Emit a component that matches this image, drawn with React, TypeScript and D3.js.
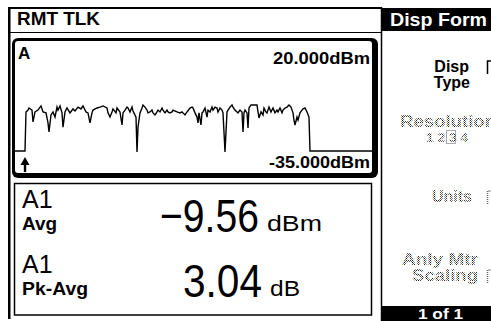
import React from 'react';
import * as d3 from 'd3';

const W = 491;
const H = 321;

// Sweep trace: bin index across the display and measured level (dBm)
const sweepBins = [
  0, 11, 12, 14, 15, 18, 19, 21, 24, 27, 29, 32, 34, 35, 37, 39, 41, 43, 44, 46,
  48, 49, 51, 53, 56, 59, 61, 64, 67, 69, 72, 74, 76, 78, 79, 83, 86, 89, 93, 94,
  96, 98, 99, 102, 103, 106, 108, 109, 111, 113, 114, 116, 118, 119, 122, 123, 124, 126, 128, 129,
  131, 133, 134, 136, 138, 139, 141, 143, 144, 146, 148, 149, 151, 153, 154, 156, 158, 159, 163, 166,
  168, 169, 171, 173, 176, 178, 179, 181, 183, 184, 185, 187, 188, 189, 191, 193, 194, 196, 198, 199,
  201, 203, 204, 206, 208, 209, 211, 213, 214, 216, 218, 219, 221, 223, 224, 226, 228, 229, 230, 231,
  233, 234, 235, 237, 243, 244, 245, 247, 249, 250, 252, 253, 255, 257, 259, 261, 263, 264, 266, 268,
  269, 271, 273, 275, 277, 279, 280, 281, 283, 284, 286, 288, 289, 291, 293, 295, 296, 358,
];
const traceDbm = [
  -26.0, -26.0, -9.2, -8.4, -7.5, -8.4, -13.5, -9.2, -8.4, -6.6, -9.2, -9.6, -13.9, -17.8, -10.5, -9.2, -11.4, -7.1, -8.4, -6.6,
  -9.6, -15.7, -9.2, -7.5, -9.6, -7.9, -8.8, -7.1, -7.9, -6.6, -9.2, -9.6, -13.9, -9.6, -8.4, -7.5, -7.1, -6.6, -7.5, -9.6,
  -11.4, -9.2, -7.9, -9.6, -7.5, -9.2, -14.8, -9.6, -8.4, -7.1, -7.5, -9.2, -7.1, -8.8, -11.4, -26.4, -15.7, -9.6, -7.5, -6.2,
  -7.1, -8.4, -9.6, -9.2, -8.4, -9.6, -10.5, -9.2, -8.4, -9.2, -7.5, -8.4, -9.6, -8.4, -9.2, -9.6, -9.2, -8.4, -9.2, -9.6,
  -9.2, -9.6, -10.5, -9.2, -7.5, -7.1, -7.5, -9.6, -11.4, -13.9, -9.6, -14.8, -9.6, -9.2, -7.5, -11.4, -8.4, -9.2, -7.1, -8.4,
  -7.1, -7.5, -9.2, -7.5, -8.4, -9.6, -26.4, -9.2, -8.4, -7.1, -6.2, -7.1, -8.4, -9.2, -9.6, -8.4, -9.2, -17.8, -9.6, -8.4,
  -9.6, -16.1, -7.5, -6.2, -6.2, -9.2, -11.8, -9.2, -10.5, -7.5, -9.2, -9.6, -7.1, -9.2, -7.5, -9.6, -8.4, -9.2, -7.5, -9.6,
  -8.4, -7.5, -7.1, -6.2, -7.1, -9.6, -12.7, -14.8, -11.4, -12.7, -9.6, -8.4, -7.9, -7.5, -9.2, -11.4, -26.0, -26.0,
];

const refLevelTop = 20;
const refLevelBottom = -35;
const sweepSpan = [0, 358];

const measLabels = ['A1', 'A1'];
const measSubLabels = ['Avg', 'Pk-Avg'];
const measValues = [-9.56, 3.04];
const measUnits = ['dBm', 'dB'];

const headerTitle = 'RMT TLK';
const menuTitle = 'Disp Form';
const menuPage = '1 of 1';

const FONT = "'Liberation Sans', Arial, Helvetica, sans-serif";

export default function App() {
  const x = d3.scaleLinear().domain(sweepSpan).range([14, 372]);
  const y = d3.scaleLinear().domain([refLevelBottom, refLevelTop]).range([172, 44]);
  const line = d3
    .line<number>()
    .x((_, i) => x(sweepBins[i]))
    .y((d) => y(d))
    .curve(d3.curveLinear);
  const tracePath = line(traceDbm) || '';
  const fmtRef = (v: number) => v.toFixed(3) + 'dBm';
  const fmtVal = d3.format('.2f');

  const arrowX = x(sweepBins[1]);
  const arrowY0 = y(traceDbm[0]) + 6;

  return (
    <svg
      width={W}
      height={H}
      viewBox={`0 0 ${W} ${H}`}
      style={{ position: 'absolute', left: 0, top: 0, background: '#fff' }}
      fontFamily={FONT}
    >
      <defs>
        <pattern id="dots" width="2" height="2" patternUnits="userSpaceOnUse">
          <rect width="2" height="2" fill="#fff" />
          <rect x="0" y="0" width="1" height="1" fill="#222" />
          <rect x="1" y="1" width="1" height="1" fill="#666" />
        </pattern>
      </defs>
      <rect width={W} height={H} fill="#fff" />

      {/* outer frame of left screen area */}
      <rect x={8} y={7} width={2.5} height={312} fill="#000" />
      <rect x={8} y={7} width={374} height={2} fill="#000" />
      <line x1={9} x2={381} y1={32.5} y2={32.5} stroke="#000" strokeWidth={1} />
      <text x={17} y={25} fontSize={18} fontWeight="bold" textLength={83} lengthAdjust="spacingAndGlyphs">
        {headerTitle}
      </text>

      {/* trace window */}
      <rect x={12} y={38} width={366} height={140} rx={6} fill="#000" />
      <rect x={15} y={41} width={357} height={132} rx={3} fill="#fff" />
      <text x={18} y={59} fontSize={17} fontWeight="bold">A</text>
      <text x={370} y={64} fontSize={17} fontWeight="bold" textAnchor="end" textLength={97} lengthAdjust="spacingAndGlyphs">
        {fmtRef(refLevelTop)}
      </text>
      <path d={tracePath} fill="none" stroke="#000" strokeWidth={1.4} strokeLinejoin="miter" />
      <path
        d={`M${arrowX - 4.5},${arrowY0 + 8} L${arrowX},${arrowY0} L${arrowX + 4.5},${arrowY0 + 8} Z`}
        fill="#000"
      />
      <rect x={arrowX - 1.2} y={arrowY0 + 7} width={2.4} height={8} fill="#000" />
      <text x={370} y={168} fontSize={17} fontWeight="bold" textAnchor="end" textLength={101} lengthAdjust="spacingAndGlyphs">
        {fmtRef(refLevelBottom)}
      </text>

      {/* measurement window */}
      <rect x={14.5} y={183.5} width={357} height={131.5} fill="none" stroke="#000" strokeWidth={1.5} />
      {measValues.map((v, i) => {
        const base = i === 0 ? 0 : 65;
        return (
          <g key={i}>
            <text x={22} y={208 + base} fontSize={25}>{measLabels[i]}</text>
            <text x={22} y={230 + base} fontSize={18} fontWeight="bold" textLength={i === 0 ? 35 : 66} lengthAdjust="spacingAndGlyphs">
              {measSubLabels[i]}
            </text>
            <text
              x={i === 0 ? 259 : 262}
              y={232 + base}
              fontSize={47}
              textAnchor="end"
              textLength={i === 0 ? 99 : 79}
              lengthAdjust="spacingAndGlyphs"
            >
              {fmtVal(v)}
            </text>
            <text
              x={i === 0 ? 267 : 270}
              y={231 + base}
              fontSize={22}
              textLength={i === 0 ? 55 : 30}
              lengthAdjust="spacingAndGlyphs"
            >
              {measUnits[i]}
            </text>
          </g>
        );
      })}

      {/* softkey menu */}
      <line x1={381.5} x2={381.5} y1={7} y2={321} stroke="#000" strokeWidth={1.5} />
      <rect x={382} y={8} width={109} height={23} fill="#000" />
      <text x={390} y={26} fontSize={18} fontWeight="bold" fill="#fff" textLength={97} lengthAdjust="spacingAndGlyphs">
        {menuTitle}
      </text>
      <rect x={382} y={306} width={109} height={15} fill="#000" />
      <text x={418} y={319} fontSize={15} fontWeight="bold" fill="#fff" textLength={45} lengthAdjust="spacingAndGlyphs">
        {menuPage}
      </text>

      <text x={469} y={72} fontSize={16} fontWeight="bold" textAnchor="end">Disp</text>
      <text x={470} y={88} fontSize={16} fontWeight="bold" textAnchor="end">Type</text>
      <path d="M487.5,74 V61 H491" fill="none" stroke="#000" strokeWidth={1.5} />

      <text x={400} y={127} fontSize={16} fontWeight="bold" fill="url(#dots)" textLength={96} lengthAdjust="spacingAndGlyphs">
        Resolution
      </text>
      <text x={426} y={142} fontSize={13} fontWeight="bold" fill="url(#dots)" textLength={42} lengthAdjust="spacingAndGlyphs">
        1 2 3 4
      </text>
      <rect x={446.5} y={130.5} width={9} height={13} fill="none" stroke="#555" strokeWidth={1} strokeDasharray="1,1" />

      <text x={472} y={202} fontSize={16} fontWeight="bold" fill="url(#dots)" textAnchor="end">Units</text>
      <path d="M487.5,204 V191 H491" fill="none" stroke="#666" strokeWidth={1.5} strokeDasharray="1,1" />

      <text x={478} y={265} fontSize={16} fontWeight="bold" fill="url(#dots)" textAnchor="end" textLength={76} lengthAdjust="spacingAndGlyphs">
        Anly Mtr
      </text>
      <text x={478} y={281} fontSize={16} fontWeight="bold" fill="url(#dots)" textAnchor="end" textLength={66} lengthAdjust="spacingAndGlyphs">
        Scaling
      </text>
      <path d="M487.5,283 V270 H491" fill="none" stroke="#666" strokeWidth={1.5} strokeDasharray="1,1" />
    </svg>
  );
}
